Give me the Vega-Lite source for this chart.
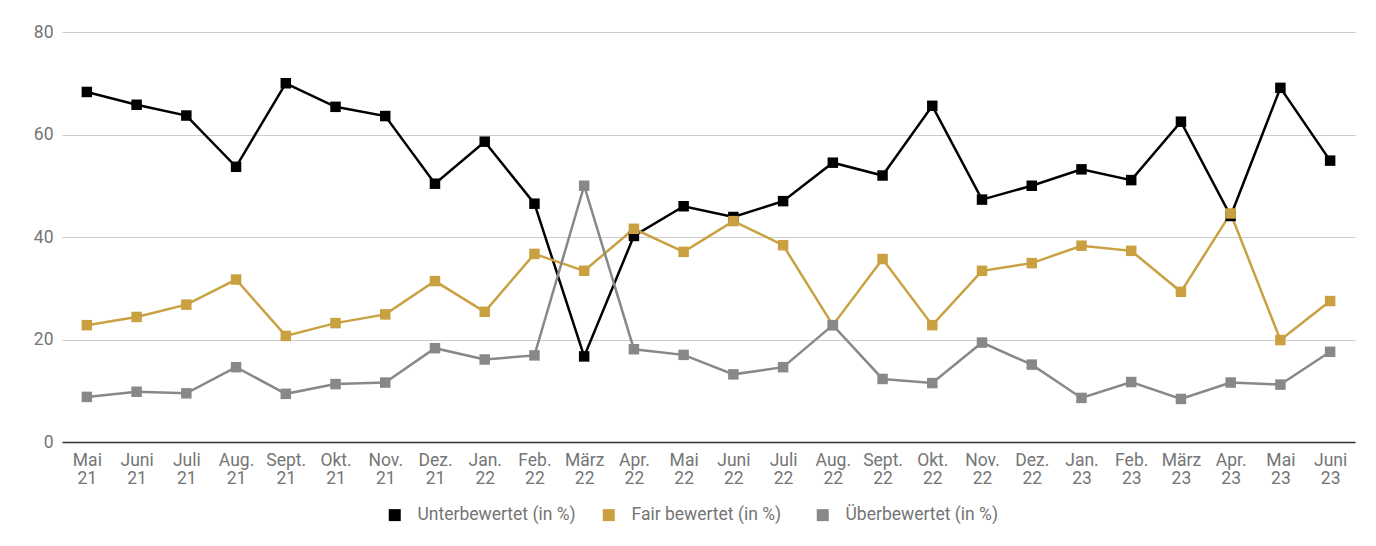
{
  "$schema": "https://vega.github.io/schema/vega-lite/v6.json",
  "width": 1293,
  "height": 410,
  "autosize": "none",
  "padding": {"left": 62, "top": 32, "right": 21, "bottom": 104},
  "background": "#ffffff",
  "config": {
    "view": {"stroke": null},
    "font": "Roboto",
    "axis": {"labelFont": "Roboto", "labelColor": "#757575", "labelFontSize": 17.5},
    "legend": {"labelFont": "Roboto", "labelColor": "#757575", "labelFontSize": 17.5}
  },
  "data": {
    "values": [
      {"monat": "Mai 21", "reihe": "Unterbewertet (in %)", "wert": 68.3},
      {"monat": "Juni 21", "reihe": "Unterbewertet (in %)", "wert": 65.8},
      {"monat": "Juli 21", "reihe": "Unterbewertet (in %)", "wert": 63.7},
      {"monat": "Aug. 21", "reihe": "Unterbewertet (in %)", "wert": 53.7},
      {"monat": "Sept. 21", "reihe": "Unterbewertet (in %)", "wert": 70.0},
      {"monat": "Okt. 21", "reihe": "Unterbewertet (in %)", "wert": 65.4},
      {"monat": "Nov. 21", "reihe": "Unterbewertet (in %)", "wert": 63.6},
      {"monat": "Dez. 21", "reihe": "Unterbewertet (in %)", "wert": 50.4},
      {"monat": "Jan. 22", "reihe": "Unterbewertet (in %)", "wert": 58.6},
      {"monat": "Feb. 22", "reihe": "Unterbewertet (in %)", "wert": 46.5},
      {"monat": "März 22", "reihe": "Unterbewertet (in %)", "wert": 16.7},
      {"monat": "Apr. 22", "reihe": "Unterbewertet (in %)", "wert": 40.2},
      {"monat": "Mai 22", "reihe": "Unterbewertet (in %)", "wert": 46.0},
      {"monat": "Juni 22", "reihe": "Unterbewertet (in %)", "wert": 43.9},
      {"monat": "Juli 22", "reihe": "Unterbewertet (in %)", "wert": 47.0},
      {"monat": "Aug. 22", "reihe": "Unterbewertet (in %)", "wert": 54.5},
      {"monat": "Sept. 22", "reihe": "Unterbewertet (in %)", "wert": 52.0},
      {"monat": "Okt. 22", "reihe": "Unterbewertet (in %)", "wert": 65.6},
      {"monat": "Nov. 22", "reihe": "Unterbewertet (in %)", "wert": 47.3},
      {"monat": "Dez. 22", "reihe": "Unterbewertet (in %)", "wert": 50.0},
      {"monat": "Jan. 23", "reihe": "Unterbewertet (in %)", "wert": 53.2},
      {"monat": "Feb. 23", "reihe": "Unterbewertet (in %)", "wert": 51.1},
      {"monat": "März 23", "reihe": "Unterbewertet (in %)", "wert": 62.5},
      {"monat": "Apr. 23", "reihe": "Unterbewertet (in %)", "wert": 44.1},
      {"monat": "Mai 23", "reihe": "Unterbewertet (in %)", "wert": 69.1},
      {"monat": "Juni 23", "reihe": "Unterbewertet (in %)", "wert": 54.9},
      {"monat": "Mai 21", "reihe": "Fair bewertet (in %)", "wert": 22.8},
      {"monat": "Juni 21", "reihe": "Fair bewertet (in %)", "wert": 24.4},
      {"monat": "Juli 21", "reihe": "Fair bewertet (in %)", "wert": 26.8},
      {"monat": "Aug. 21", "reihe": "Fair bewertet (in %)", "wert": 31.7},
      {"monat": "Sept. 21", "reihe": "Fair bewertet (in %)", "wert": 20.7},
      {"monat": "Okt. 21", "reihe": "Fair bewertet (in %)", "wert": 23.2},
      {"monat": "Nov. 21", "reihe": "Fair bewertet (in %)", "wert": 24.9},
      {"monat": "Dez. 21", "reihe": "Fair bewertet (in %)", "wert": 31.4},
      {"monat": "Jan. 22", "reihe": "Fair bewertet (in %)", "wert": 25.4},
      {"monat": "Feb. 22", "reihe": "Fair bewertet (in %)", "wert": 36.7},
      {"monat": "März 22", "reihe": "Fair bewertet (in %)", "wert": 33.4},
      {"monat": "Apr. 22", "reihe": "Fair bewertet (in %)", "wert": 41.6},
      {"monat": "Mai 22", "reihe": "Fair bewertet (in %)", "wert": 37.1},
      {"monat": "Juni 22", "reihe": "Fair bewertet (in %)", "wert": 43.1},
      {"monat": "Juli 22", "reihe": "Fair bewertet (in %)", "wert": 38.4},
      {"monat": "Aug. 22", "reihe": "Fair bewertet (in %)", "wert": 22.8},
      {"monat": "Sept. 22", "reihe": "Fair bewertet (in %)", "wert": 35.7},
      {"monat": "Okt. 22", "reihe": "Fair bewertet (in %)", "wert": 22.8},
      {"monat": "Nov. 22", "reihe": "Fair bewertet (in %)", "wert": 33.4},
      {"monat": "Dez. 22", "reihe": "Fair bewertet (in %)", "wert": 34.9},
      {"monat": "Jan. 23", "reihe": "Fair bewertet (in %)", "wert": 38.3},
      {"monat": "Feb. 23", "reihe": "Fair bewertet (in %)", "wert": 37.3},
      {"monat": "März 23", "reihe": "Fair bewertet (in %)", "wert": 29.3},
      {"monat": "Apr. 23", "reihe": "Fair bewertet (in %)", "wert": 44.6},
      {"monat": "Mai 23", "reihe": "Fair bewertet (in %)", "wert": 19.9},
      {"monat": "Juni 23", "reihe": "Fair bewertet (in %)", "wert": 27.5},
      {"monat": "Mai 21", "reihe": "Überbewertet (in %)", "wert": 8.8},
      {"monat": "Juni 21", "reihe": "Überbewertet (in %)", "wert": 9.8},
      {"monat": "Juli 21", "reihe": "Überbewertet (in %)", "wert": 9.5},
      {"monat": "Aug. 21", "reihe": "Überbewertet (in %)", "wert": 14.6},
      {"monat": "Sept. 21", "reihe": "Überbewertet (in %)", "wert": 9.4},
      {"monat": "Okt. 21", "reihe": "Überbewertet (in %)", "wert": 11.3},
      {"monat": "Nov. 21", "reihe": "Überbewertet (in %)", "wert": 11.6},
      {"monat": "Dez. 21", "reihe": "Überbewertet (in %)", "wert": 18.3},
      {"monat": "Jan. 22", "reihe": "Überbewertet (in %)", "wert": 16.1},
      {"monat": "Feb. 22", "reihe": "Überbewertet (in %)", "wert": 16.9},
      {"monat": "März 22", "reihe": "Überbewertet (in %)", "wert": 50.0},
      {"monat": "Apr. 22", "reihe": "Überbewertet (in %)", "wert": 18.1},
      {"monat": "Mai 22", "reihe": "Überbewertet (in %)", "wert": 17.0},
      {"monat": "Juni 22", "reihe": "Überbewertet (in %)", "wert": 13.2},
      {"monat": "Juli 22", "reihe": "Überbewertet (in %)", "wert": 14.6},
      {"monat": "Aug. 22", "reihe": "Überbewertet (in %)", "wert": 22.8},
      {"monat": "Sept. 22", "reihe": "Überbewertet (in %)", "wert": 12.3},
      {"monat": "Okt. 22", "reihe": "Überbewertet (in %)", "wert": 11.5},
      {"monat": "Nov. 22", "reihe": "Überbewertet (in %)", "wert": 19.4},
      {"monat": "Dez. 22", "reihe": "Überbewertet (in %)", "wert": 15.1},
      {"monat": "Jan. 23", "reihe": "Überbewertet (in %)", "wert": 8.6},
      {"monat": "Feb. 23", "reihe": "Überbewertet (in %)", "wert": 11.7},
      {"monat": "März 23", "reihe": "Überbewertet (in %)", "wert": 8.4},
      {"monat": "Apr. 23", "reihe": "Überbewertet (in %)", "wert": 11.6},
      {"monat": "Mai 23", "reihe": "Überbewertet (in %)", "wert": 11.2},
      {"monat": "Juni 23", "reihe": "Überbewertet (in %)", "wert": 17.6}
    ]
  },
  "encoding": {
    "x": {
      "field": "monat",
      "type": "nominal",
      "sort": null,
      "scale": {"type": "point", "padding": 0.5},
      "title": null,
      "axis": {
        "labelAngle": 0,
        "labelExpr": "split(datum.label, ' ')",
        "labelFontSize": 17.5,
        "labelLineHeight": 18.5,
        "labelPadding": 9,
        "ticks": false,
        "grid": false,
        "domainColor": "#333333",
        "domainWidth": 1.5
      }
    },
    "y": {
      "field": "wert",
      "type": "quantitative",
      "title": null,
      "scale": {"domain": [0, 80]},
      "axis": {
        "values": [0, 20, 40, 60, 80],
        "domain": false,
        "ticks": false,
        "labelFontSize": 17.5,
        "labelPadding": 9,
        "gridColor": "#cccccc",
        "gridWidth": 1
      }
    },
    "color": {
      "field": "reihe",
      "type": "nominal",
      "sort": null,
      "title": null,
      "scale": {
        "domain": ["Unterbewertet (in %)", "Fair bewertet (in %)", "Überbewertet (in %)"],
        "range": ["#000000", "#c9a140", "#888888"]
      },
      "legend": {
        "orient": "none",
        "legendX": 324,
        "legendY": 474,
        "direction": "horizontal",
        "symbolType": "square",
        "symbolSize": 144,
        "symbolStrokeWidth": 0,
        "labelFontSize": 17.5,
        "labelColor": "#757575",
        "labelOffset": 14,
        "gridAlign": "all",
        "columnPadding": 24
      }
    }
  },
  "layer": [
    {"mark": {"type": "line", "strokeWidth": 2.5}},
    {"mark": {"type": "point", "shape": "square", "filled": true, "size": 110, "opacity": 1}}
  ]
}
